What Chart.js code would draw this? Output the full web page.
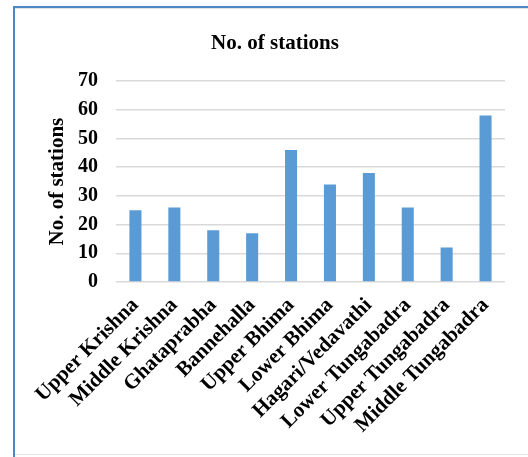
<!DOCTYPE html>
<html>
<head>
<meta charset="utf-8">
<script src="https://cdn.jsdelivr.net/npm/chart.js@4/dist/chart.umd.min.js"></script>
<style>
  html, body { margin: 0; padding: 0; background: #ffffff; }
  body { width: 528px; height: 457px; position: relative; overflow: hidden; }
  #frame {
    position: absolute; left: 13px; top: 6px; width: 530px; height: 460px;
    border-left: 2px solid #4f86c6; border-top: 2px solid #4f86c6;
    box-sizing: border-box;
  }
  #inner {
    position: absolute; left: 15px; top: 8px; width: 520px; height: 447px;
    border-top: 1px solid #e3e3e3; border-bottom: 1px solid #e3e3e3;
    box-sizing: border-box;
  }
  #wrap { position: absolute; left: 16px; top: 9px; width: 512px; height: 446px; }
</style>
</head>
<body>
<div id="frame"></div>
<div id="inner"></div>
<div id="wrap"><canvas id="c" width="512" height="446"></canvas></div>
<script>
// Sub-basins and their number of stations
const basins = [
  "Upper Krishna", "Middle Krishna", "Ghataprabha", "Bannehalla", "Upper Bhima",
  "Lower Bhima", "Hagari/Vedavathi", "Lower Tungabadra", "Upper Tungabadra", "Middle Tungabadra"
];
const stations = [25, 26, 18, 17, 46, 34, 38, 26, 12, 58];
const yTicks = [0, 10, 20, 30, 40, 50, 60, 70];

const serif = "'Liberation Serif', 'Times New Roman', serif";

// Category names written at 45 degrees, each one ending at its tick,
// free to run out to the left of the value axis.
const slantedLabels = {
  id: "slantedLabels",
  afterDraw(chart) {
    const xs = chart.scales.x;
    const ctx = chart.ctx;
    ctx.save();
    ctx.font = "bold 21px " + serif;
    ctx.fillStyle = "#000";
    ctx.textAlign = "right";
    ctx.textBaseline = "middle";
    chart.data.labels.forEach((name, i) => {
      ctx.save();
      ctx.translate(xs.getPixelForTick(i), xs.top + 20);
      ctx.rotate(-Math.PI / 4);
      ctx.fillText(name, 0, 0);
      ctx.restore();
    });
    ctx.restore();
  }
};

new Chart(document.getElementById("c"), {
  type: "bar",
  data: {
    labels: basins,
    datasets: [{
      label: "No. of stations",
      data: stations,
      backgroundColor: "#5b9bd5",
      borderWidth: 0,
      categoryPercentage: 1,
      barPercentage: 0.31
    }]
  },
  plugins: [slantedLabels],
  options: {
    responsive: false,
    animation: false,
    devicePixelRatio: 1,
    layout: { padding: { left: 29, right: 23, top: 0, bottom: 173 } },
    plugins: {
      legend: { display: false },
      tooltip: { enabled: false },
      title: {
        display: true,
        text: "No. of stations",
        color: "#000",
        font: { family: serif, size: 21, weight: "bold" },
        padding: { top: 22, bottom: 25 }
      }
    },
    scales: {
      x: {
        grid: { display: false, drawTicks: false },
        border: { display: false },
        ticks: { display: false }
      },
      y: {
        min: yTicks[0],
        max: yTicks[yTicks.length - 1],
        afterBuildTicks: (axis) => { axis.ticks = yTicks.map(v => ({ value: v })); },
        // axis strip: title (about 33px) + tick labels (20px) + gap (18px)
        afterFit: (axis) => { axis.width = 71; },
        border: { display: false },
        grid: { color: "#d9d9d9", lineWidth: 1.6, drawTicks: false },
        ticks: {
          color: "#000",
          padding: 18,
          font: { family: serif, size: 20, weight: "bold" }
        },
        title: {
          display: true,
          text: "No. of stations",
          color: "#000",
          font: { family: serif, size: 21, weight: "bold" },
          padding: { top: 0, bottom: 8 }
        }
      }
    }
  }
});
</script>
</body>
</html>
